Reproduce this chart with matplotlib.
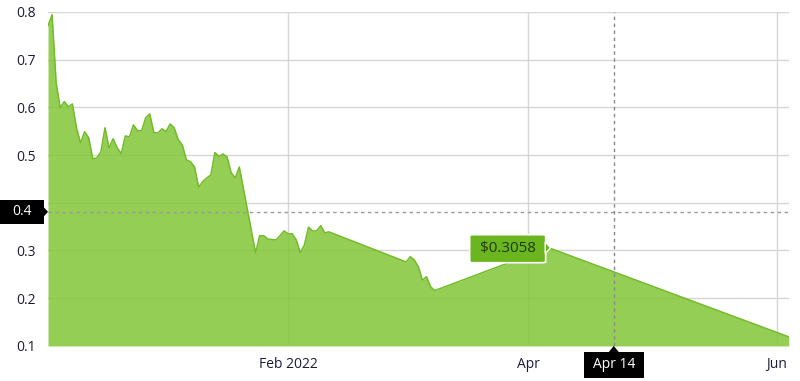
import numpy as np
import pandas as pd
import matplotlib
matplotlib.use("Agg")
import matplotlib.pyplot as plt
import matplotlib.dates as mdates
from matplotlib.patches import Rectangle, Polygon, FancyBboxPatch

plt.rcParams["font.family"] = ["Open Sans", "DejaVu Sans"]

# daily price (gaps are straight segments in the original)
dates = [
    "2021-12-04", "2021-12-05", "2021-12-06", "2021-12-07", "2021-12-08", "2021-12-09",
    "2021-12-10", "2021-12-11", "2021-12-12", "2021-12-13", "2021-12-14", "2021-12-15",
    "2021-12-16", "2021-12-17", "2021-12-18", "2021-12-19", "2021-12-20", "2021-12-21",
    "2021-12-22", "2021-12-23", "2021-12-24", "2021-12-25", "2021-12-26", "2021-12-27",
    "2021-12-28", "2021-12-29", "2021-12-30", "2021-12-31", "2022-01-01", "2022-01-02",
    "2022-01-03", "2022-01-04", "2022-01-05", "2022-01-06", "2022-01-07", "2022-01-08",
    "2022-01-09", "2022-01-10", "2022-01-11", "2022-01-12", "2022-01-13", "2022-01-14",
    "2022-01-15", "2022-01-16", "2022-01-17", "2022-01-18", "2022-01-19", "2022-01-20",
    "2022-01-24", "2022-01-25", "2022-01-26", "2022-01-27", "2022-01-28", "2022-01-29",
    "2022-01-30", "2022-01-31", "2022-02-01", "2022-02-02", "2022-02-03", "2022-02-04",
    "2022-02-05", "2022-02-06", "2022-02-07", "2022-02-08", "2022-02-09", "2022-02-10",
    "2022-02-11", "2022-03-02", "2022-03-03", "2022-03-04", "2022-03-05", "2022-03-06",
    "2022-03-07", "2022-03-08", "2022-03-09", "2022-04-06", "2022-06-04",
]
prices = [
    0.771, 0.794, 0.651, 0.599, 0.612, 0.601,
    0.607, 0.557, 0.525, 0.549, 0.536, 0.492,
    0.494, 0.507, 0.557, 0.515, 0.534, 0.515,
    0.503, 0.540, 0.538, 0.563, 0.551, 0.551,
    0.578, 0.586, 0.547, 0.546, 0.555, 0.549,
    0.565, 0.557, 0.532, 0.521, 0.490, 0.486,
    0.475, 0.433, 0.444, 0.452, 0.458, 0.505,
    0.497, 0.502, 0.496, 0.463, 0.452, 0.475,
    0.295, 0.331, 0.331, 0.324, 0.323, 0.322,
    0.331, 0.341, 0.335, 0.335, 0.322, 0.295,
    0.312, 0.349, 0.341, 0.341, 0.352, 0.337,
    0.339, 0.276, 0.287, 0.280, 0.266, 0.238,
    0.245, 0.224, 0.216, 0.3058, 0.119,
]

y_ticks = [0.1, 0.2, 0.3, 0.4, 0.5, 0.6, 0.7, 0.8]
x_ticks = ["2022-02-01", "2022-04-01", "2022-06-01"]
x_labels = ["Feb 2022", "Apr", "Jun"]

# hover state shown in the screenshot
tip_date, tip_value, tip_text = "2022-04-06", 0.3058, "$0.3058"
cross_date, cross_label = "2022-04-22", "Apr 14"
cross_value, cross_value_label = 0.381, "0.4"

t = pd.to_datetime(dates)
p = np.array(prices)

fig = plt.figure(figsize=(8, 3.81), dpi=100)
ax = fig.add_axes([0.06, 0.092, 0.926, 0.877])

ax.fill_between(t, 0.1, p, color="#83c637", alpha=0.85, linewidth=0, zorder=2)
ax.plot(t, p, color="#72bb2a", linewidth=1.1, zorder=3)

ax.set_xlim(t[0], t[-1])
ax.set_ylim(0.1, 0.8)
ax.set_yticks(y_ticks)
ax.set_yticklabels([f"{v:.1f}" for v in y_ticks])
ax.set_xticks(pd.to_datetime(x_ticks))
ax.set_xticklabels(x_labels)
ax.tick_params(length=0, labelsize=10, labelcolor="#1c1c3a")
ax.tick_params(axis="x", pad=8)
ax.tick_params(axis="y", pad=9)

ax.grid(color="#d6d6d6", linewidth=1)
ax.set_axisbelow(True)
for s in ax.spines.values():
    s.set_visible(False)

# crosshair
cx = mdates.date2num(pd.Timestamp(cross_date))
ax.axhline(cross_value, color="#999999", linestyle=(0, (2.5, 2.5)), linewidth=1, zorder=4)
ax.axvline(cx, color="#888888", linestyle=(0, (2.5, 2.5)), linewidth=1, zorder=4)

for lbl in ax.get_yticklabels():
    if lbl.get_text() == "0.4":
        lbl.set_visible(False)

# y crosshair label (pixel sizes converted to axes/data units)
w_px, h_px = 741.0, 334.0
ytr = ax.get_yaxis_transform()
bh = 24 / h_px * 0.7
ax.add_patch(Rectangle((-48 / w_px, cross_value - bh / 2), 44 / w_px, bh, transform=ytr,
                       fc="black", ec="none", clip_on=False, zorder=6))
ax.add_patch(Polygon([[-4.5 / w_px, cross_value + 5 / h_px * 0.7],
                      [-4.5 / w_px, cross_value - 5 / h_px * 0.7],
                      [0.0, cross_value]], closed=True, transform=ytr,
                     fc="black", ec="none", clip_on=False, zorder=6))
ax.text(-26 / w_px, cross_value, cross_value_label, transform=ytr, ha="center", va="center",
        color="white", fontsize=10, zorder=7, clip_on=False)

# x crosshair label
xtr = ax.get_xaxis_transform()
day_px = 741.0 / (t[-1] - t[0]).days
ax.add_patch(Rectangle((cx - 30 / day_px, -32 / h_px), 60 / day_px, 26 / h_px, transform=xtr,
                       fc="black", ec="none", clip_on=False, zorder=6))
ax.add_patch(Polygon([[cx - 5 / day_px, -6 / h_px], [cx + 5 / day_px, -6 / h_px], [cx, 0.0]],
                     closed=True, transform=xtr, fc="black", ec="none", clip_on=False, zorder=6))
ax.text(cx, -19 / h_px, cross_label, transform=xtr, ha="center", va="center",
        color="white", fontsize=10, zorder=7, clip_on=False)

# tooltip
tx = mdates.date2num(pd.Timestamp(tip_date))
bw, bhh = 76 / day_px, 28 / h_px * 0.7
bx = tx - 79 / day_px
by = tip_value - 15 / h_px * 0.7
ax.add_patch(FancyBboxPatch((bx, by), bw, bhh, boxstyle="round,pad=0,rounding_size=1.2",
                            mutation_aspect=bhh / bw * 0.3,
                            fc="#6bb51e", ec="white", lw=1.2, zorder=7))
ax.add_patch(Polygon([[bx + bw - 0.1, tip_value + 6 / h_px * 0.7],
                      [bx + bw - 0.1, tip_value - 6 / h_px * 0.7],
                      [bx + bw + 1.2, tip_value]], closed=True,
                     fc="#6bb51e", ec="white", lw=1.0, zorder=7))
ax.text(bx + bw / 2, tip_value - 1 / h_px * 0.7, tip_text, ha="center", va="center",
        fontsize=11, color="#1f3a0a", zorder=8)

fig.savefig("out.png", dpi=100)
